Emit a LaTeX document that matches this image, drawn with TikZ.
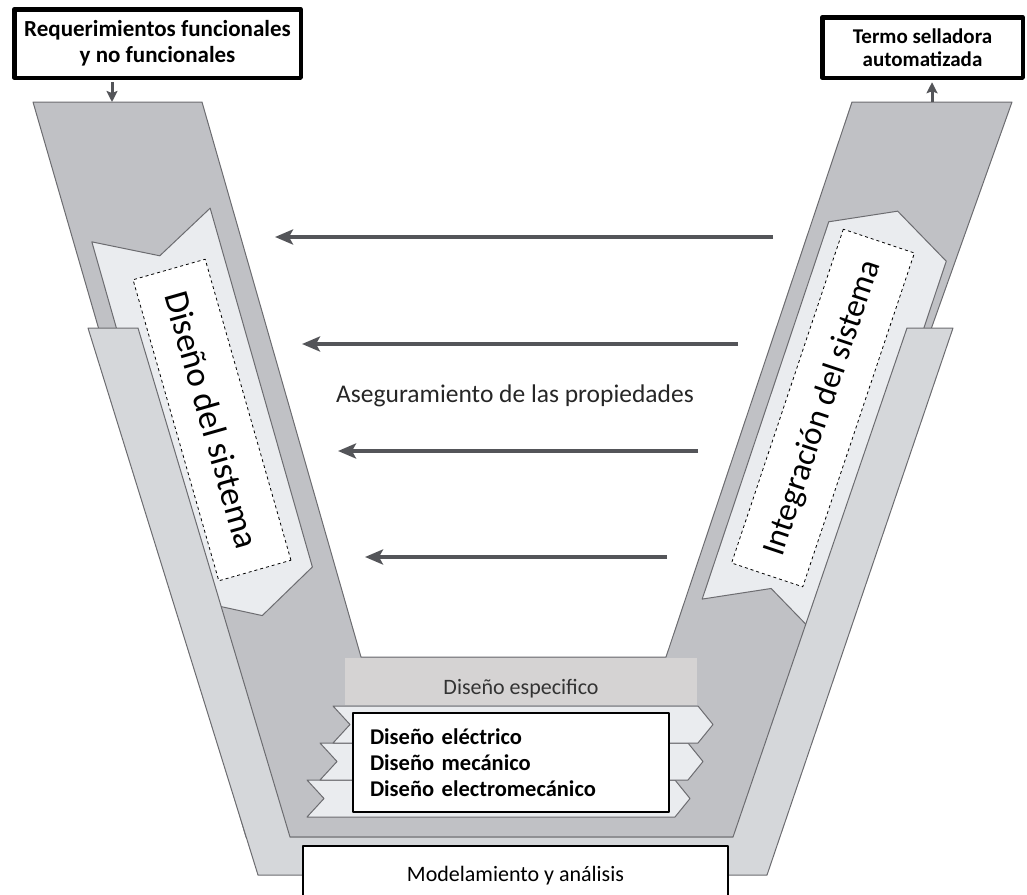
\documentclass[tikz,border=0pt]{standalone}
\usepackage{fontspec}
\setmainfont{Carlito}
\usetikzlibrary{arrows.meta}
\definecolor{armgray}{RGB}{192,193,197}
\definecolor{bandgray}{RGB}{213,215,218}
\definecolor{chevgray}{RGB}{234,236,239}
\definecolor{headgray}{RGB}{213,211,211}
\definecolor{edgegray}{RGB}{108,108,112}
\definecolor{arrowgray}{RGB}{84,85,89}

\begin{document}
\begin{tikzpicture}[line join=round,>={Stealth[length=18pt,width=15pt,inset=4pt]},x=1pt,y=-1pt,
  shape edge/.style={draw=edgegray,line width=1pt},
  goal box/.style={draw=black,line width=4.5pt,fill=white,align=center,inner sep=0pt,font=\bfseries\fontsize{23}{26}\selectfont},
  phase box/.style={draw=black,dashed,line width=0.8pt,fill=white,inner sep=0pt,font=\fontsize{35}{40}\selectfont},
  prop arrow/.style={->,draw=arrowgray,fill=arrowgray,line width=3.5pt},
  io arrow/.style={-{Stealth[length=11pt,width=11pt,inset=2pt]},draw=arrowgray,fill=arrowgray,line width=3pt}]
\useasboundingbox (0,0) rectangle (1027,894);

%V
\draw[shape edge,fill=armgray] (33,102)--(202,102)--(361,657)--(666,657)--(852,102)--(1012,102)--(750,837)--(246,837)--cycle;

%flechas de fase
\begin{scope}[shift={(151,225)},x={(0.962pt,0.274pt)},y={(0.274pt,-0.962pt)}]
\draw[shape edge,fill=chevgray] (-61.5,0)--(0,32)--(61.5,0)--(61.5,373)--(0,406)--(-61.5,373)--cycle;
\end{scope}
\begin{scope}[shift={(887.5,241.5)},x={(0.948pt,-0.318pt)},y={(-0.318pt,-0.948pt)}]
\draw[shape edge,fill=chevgray] (-62,0)--(0,-32)--(62,0)--(62,398)--(0,366)--(-62,398)--cycle;
\end{scope}

%modelamiento
\draw[shape edge,fill=bandgray] (88,328)--(138,328)--(290,837)--(733,837)--(907,328)--(953,328)--(767,875)--(258,875)--cycle;

\node[phase box,rotate=-74.1,minimum width=313pt,minimum height=75pt] (dis) at (212,420) {Diseño del sistema};
\node[phase box,rotate=71.5,minimum width=352pt,minimum height=75pt,font=\fontsize{33}{38}\selectfont] (int) at (823,408) {Integración del sistema};

%diseno especifico
\node[fill=headgray,minimum width=352pt,minimum height=47pt,inner sep=0pt,text height=30pt,text depth=5pt,text=black!80,font=\fontsize{22}{26}\selectfont] (esp) at (521,681.5) {Diseño especifico};
\foreach \yt/\xl/\xr in {780/307/675, 743/320/688, 706/333/698}
{
\draw[shape edge,fill=chevgray] (\xl,\yt)--(\xr,\yt)--(\xr+15,\yt+18.5)--(\xr,\yt+37)--(\xl,\yt+37)--(\xl+17,\yt+18.5)--cycle;
}
\node[draw=black,line width=2pt,fill=white,align=left,text width=282pt,inner xsep=17pt,minimum height=99pt,font=\bfseries\fontsize{22.5}{26}\selectfont] (dom) at (511,762.5) {Diseño eléctrico\\Diseño mecánico\\Diseño electromecánico};
\node[draw=black,line width=1.5pt,fill=white,minimum width=425pt,minimum height=60pt,font=\fontsize{22}{26}\selectfont] (mod) at (515.5,876) {Modelamiento y análisis};

%aseguramiento
\foreach \i/\y/\xa/\xb in {1/237/773/275, 2/344/738/302, 3/451/698/338, 4/557/667/365}
{
\coordinate (a\i) at (\xa,\y);
\coordinate (b\i) at (\xb,\y);
\draw[prop arrow] (a\i) -- (b\i);
}
\node[font=\fontsize{25.5}{30}\selectfont,text=black!85] (prop) at (515,396) {Aseguramiento de las propiedades};

%entrada y salida
\node[goal box,minimum width=286.5pt,minimum height=68.5pt] (req) at (157.5,43.5) {Requerimientos funcionales\\y no funcionales};
\node[goal box,minimum width=200.5pt,minimum height=60.5pt,font=\bfseries\fontsize{21}{23}\selectfont] (termo) at (922.5,47.5) {Termo selladora\\automatizada};
\coordinate (topL) at (112,102);
\coordinate (topR) at (932,102);
\draw[io arrow] ([yshift=-2.25pt]req.south -| topL) -- (topL);
\draw[io arrow] (topR) -- ([yshift=-2.25pt]termo.south -| topR);
\end{tikzpicture}
\end{document}
